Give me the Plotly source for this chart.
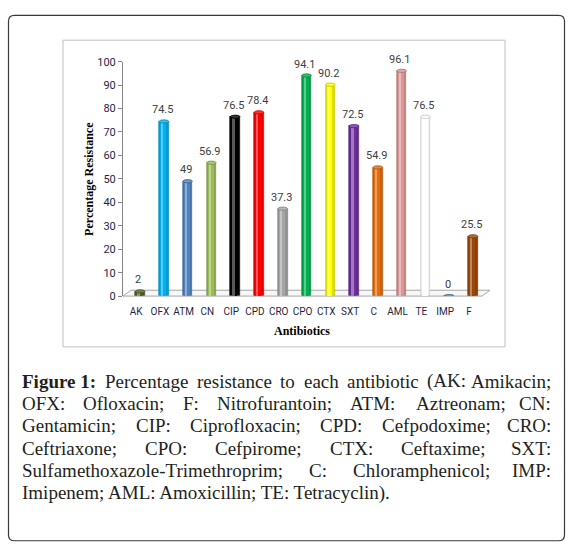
import plotly.graph_objects as go

# ---- data ----
categories = ["AK", "OFX", "ATM", "CN", "CIP", "CPD", "CRO", "CPO", "CTX", "SXT", "C", "AML", "TE", "IMP", "F"]
resistance = [2, 74.5, 49, 56.9, 76.5, 78.4, 37.3, 94.1, 90.2, 72.5, 54.9, 96.1, 76.5, 0, 25.5]
label_text = ["2", "74.5", "49", "56.9", "76.5", "78.4", "37.3", "94.1", "90.2", "72.5", "54.9", "96.1", "76.5", "0", "25.5"]
bar_colors = ["#4f6228", "#00b0f0", "#4f81bd", "#9bbb59", "#000000", "#ff0000", "#a6a6a6", "#00b050",
              "#ffff00", "#7030a0", "#e46c0a", "#d99694", "#ffffff", "#4f81bd", "#984807"]
y_ticks = [0, 10, 20, 30, 40, 50, 60, 70, 80, 90, 100]

caption_lines = [
    ["Figure 1:", "Percentage", "resistance", "to", "each", "antibiotic", "(AK:", "Amikacin;"],
    ["OFX:", "Ofloxacin;", "F:", "Nitrofurantoin;", "ATM:", "Aztreonam;", "CN:"],
    ["Gentamicin;", "CIP:", "Ciprofloxacin;", "CPD:", "Cefpodoxime;", "CRO:"],
    ["Ceftriaxone;", "CPO:", "Cefpirome;", "CTX:", "Ceftaxime;", "SXT:"],
    ["Sulfamethoxazole-Trimethroprim;", "C:", "Chloramphenicol;", "IMP:"],
    ["Imipenem; AML: Amoxicillin; TE: Tetracyclin)."],
]
bold_words = {"Figure 1:"}

W, H = 572, 558
def px(x): return x / W
def py(y): return 1 - y / H

def mix(c, t, amt):
    c = c.lstrip("#"); t = t.lstrip("#")
    a = [int(c[i:i+2], 16) for i in (0, 2, 4)]
    b = [int(t[i:i+2], 16) for i in (0, 2, 4)]
    return "#" + "".join(f"{round(a[k] + (b[k]-a[k])*amt):02x}" for k in range(3))

# Times / Liberation Serif advance widths (1/1000 em) for justification
_tw = dict(zip("abcdefghijklmnopqrstuvwxyz",
               [444,500,444,500,444,333,500,500,278,278,500,278,778,500,500,500,500,333,389,278,500,500,722,500,500,444]))
_tw.update(zip("ABCDEFGHIJKLMNOPQRSTUVWXYZ",
               [722,667,667,722,611,556,722,722,333,389,722,611,889,722,722,556,722,667,556,611,722,722,944,722,722,611]))
_tw.update({";": 278, ":": 278, "(": 333, ")": 333, "-": 333, ".": 250, " ": 250, "1": 500})
_bw = dict(_tw); _bw.update({"F": 611, "u": 556, "r": 444, ":": 333, "g": 500})
def text_w(s, size, bold=False):
    t = _bw if bold else _tw
    return sum(t.get(ch, 500) for ch in s) / 1000 * size

CAP_SIZE = 19
CAP_L, CAP_R = 20, 553
SMALL_FONT = "Roboto, sans-serif"

n = len(categories)
idx = list(range(n))
shift = 0.17
bw = 0.4
bx = [i + shift for i in idx]

fig = go.Figure()
edge = ["#bfbfbf" if c == "#ffffff" else mix(c, "#000000", 0.25) for c in bar_colors]
fig.add_trace(go.Bar(x=bx, y=resistance, width=bw,
                     marker=dict(color=[mix(c, "#000000", 0.12) if c != "#ffffff" else "#f2f2f2" for c in bar_colors],
                                 line=dict(color=edge, width=0.6)), hoverinfo="skip", showlegend=False))
fig.add_trace(go.Bar(x=[b - 0.03 for b in bx], y=resistance, width=bw * 0.6,
                     marker=dict(color=bar_colors, line=dict(width=0)), hoverinfo="skip", showlegend=False))
fig.add_trace(go.Bar(x=[b - 0.06 for b in bx], y=resistance, width=bw * 0.18,
                     marker=dict(color=[mix(c, "#ffffff", 0.35) for c in bar_colors], line=dict(width=0)),
                     hoverinfo="skip", showlegend=False))

shapes = []
shapes.append(dict(type="path", xref="paper", yref="paper",
                   path=f"M {px(123)} {py(297)} L {px(482)} {py(297)} L {px(490)} {py(291)} L {px(131)} {py(291)} Z",
                   fillcolor="#f7f7f7", line=dict(color="#a6a6a6", width=1), layer="below"))
for i, v in enumerate(resistance):
    c = bar_colors[i]
    shapes.append(dict(type="circle", xref="x", yref="y",
                       x0=bx[i] - bw / 2, x1=bx[i] + bw / 2, y0=v - 0.7, y1=v + 0.7,
                       fillcolor=mix(c, "#ffffff", 0.2) if c != "#ffffff" else "#ffffff",
                       line=dict(color=edge[i], width=0.8), layer="above"))
shapes.append(dict(type="rect", xref="paper", yref="paper", x0=px(63), x1=px(505), y0=py(349), y1=py(35),
                   line=dict(color="#bfbfbf", width=1), fillcolor="rgba(0,0,0,0)", layer="below"))
r = 6
L, R, T, B = 8.5, 564.5, 9.5, 547.5
path = (f"M {px(L+r)} {py(T)} L {px(R-r)} {py(T)} Q {px(R)} {py(T)} {px(R)} {py(T+r)} "
        f"L {px(R)} {py(B-r)} Q {px(R)} {py(B)} {px(R-r)} {py(B)} "
        f"L {px(L+r)} {py(B)} Q {px(L)} {py(B)} {px(L)} {py(B-r)} "
        f"L {px(L)} {py(T+r)} Q {px(L)} {py(T)} {px(L+r)} {py(T)} Z")
shapes.append(dict(type="path", xref="paper", yref="paper", path=path, line=dict(color="#3a3a3a", width=1.2),
                   fillcolor="rgba(0,0,0,0)"))

annotations = []
for i, v in enumerate(resistance):
    annotations.append(dict(text=label_text[i], x=bx[i] - 0.07, y=v, xref="x", yref="y", showarrow=False,
                            xanchor="center", yanchor="bottom", yshift=3,
                            font=dict(family=SMALL_FONT, size=11, color="#404040")))
annotations.append(dict(text="<b>Antibiotics</b>", xref="paper", yref="paper", x=px(302), y=py(333),
                        xanchor="center", yanchor="middle",
                        showarrow=False, font=dict(family="Liberation Serif", size=12, color="#000000")))
annotations.append(dict(text="<b>Percentage Resistance</b>", xref="paper", yref="paper", x=px(89), y=py(177),
                        xanchor="center", yanchor="middle",
                        textangle=-90, showarrow=False, font=dict(family="Liberation Serif", size=12, color="#000000")))

line_y = [384, 407, 430, 453, 476, 499]
for li, words in enumerate(caption_lines):
    widths = [text_w(w, CAP_SIZE, w in bold_words) for w in words]
    if len(words) > 1 and li < len(caption_lines) - 1:
        gap = (CAP_R - CAP_L - sum(widths)) / (len(words) - 1)
    else:
        gap = text_w(" ", CAP_SIZE)
    x = CAP_L
    for wi, w in enumerate(words):
        last = (wi == len(words) - 1) and len(words) > 1
        txt = f"<b>{w}</b>" if w in bold_words else w
        annotations.append(dict(text=txt, xref="paper", yref="paper",
                                x=px(CAP_R) if last else px(x), y=py(line_y[li]),
                                xanchor="right" if last else "left", yanchor="middle", showarrow=False,
                                font=dict(family="Liberation Serif", size=CAP_SIZE, color="#231f20")))
        x += widths[wi] + gap

fig.update_layout(
    width=W, height=H, margin=dict(l=0, r=0, t=0, b=0),
    paper_bgcolor="white", plot_bgcolor="rgba(0,0,0,0)",
    barmode="overlay", bargap=0, showlegend=False,
    shapes=shapes, annotations=annotations,
    xaxis=dict(domain=[px(123), px(482)], range=[-0.55, n - 0.45], tickmode="array", tickvals=idx,
               ticktext=categories, tickangle=0, showgrid=False, zeroline=False, showline=False,
               ticks="outside", ticklen=6, tickcolor="rgba(0,0,0,0)",
               tickfont=dict(family=SMALL_FONT, size=10, color="#1f1f3f"), fixedrange=True),
    yaxis=dict(domain=[py(297), py(57)], range=[0, 100], tickmode="array", tickvals=y_ticks,
               showgrid=False, zeroline=False, showline=True, linecolor="#868686", linewidth=1,
               ticks="outside", ticklen=4, tickcolor="#868686",
               tickfont=dict(family=SMALL_FONT, size=11, color="#1f1f3f"), fixedrange=True),
)

fig.write_html("out.html", config={"displayModeBar": False},
               post_script="document.body.style.margin='0';document.body.style.overflow='hidden';")
